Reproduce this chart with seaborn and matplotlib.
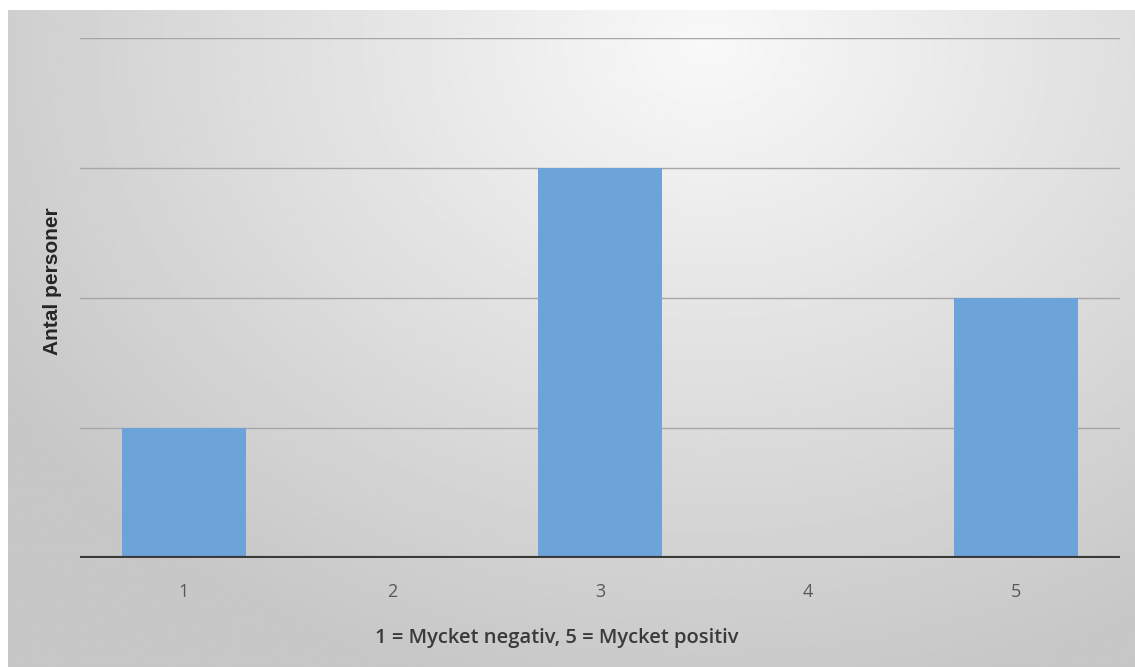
import numpy as np
import pandas as pd
import matplotlib.pyplot as plt
import seaborn as sns

# data
categories = ["1", "2", "3", "4", "5"]
counts = [1, 0, 3, 0, 2]

df = pd.DataFrame({"Betyg": categories, "Antal": counts})

sns.set_theme(style="white")
plt.rcParams['font.family'] = ['Open Sans', 'DejaVu Sans']

fig = plt.figure(figsize=(11.35, 6.67), dpi=100)
fig.patch.set_facecolor("white")

# gray radial gradient behind the chart
bg = fig.add_axes([8 / 1135, 0, 1 - 8 / 1135, 1 - 10 / 667], zorder=0)
yy, xx = np.mgrid[0:1:300j, 0:1:600j]
dist = np.sqrt(((xx - 0.62) * 1.1) ** 2 + ((yy - 0.05) * 0.8) ** 2)
shade = np.clip(0.975 - 0.24 * dist, 0.78, 0.975)
bg.imshow(shade, cmap="gray", vmin=0, vmax=1, aspect="auto", extent=[0, 1, 1, 0])
bg.axis("off")

ax = fig.add_axes([80 / 1135, 1 - 558 / 667, 1040 / 1135, 520 / 667], zorder=1)
ax.patch.set_alpha(0)

sns.barplot(data=df, x="Betyg", y="Antal", color="#6CA3D8", width=0.6,
            saturation=1, linewidth=0, ax=ax, zorder=3)

ax.set_xlim(-0.5, 4.5)
ax.set_ylim(0, 4)
for v in [1, 2, 3, 4]:
    ax.axhline(v, color="#a6a6a6", lw=1, zorder=1)
ax.axhline(0, color="#3a3a3a", lw=3, zorder=4)

ax.set_yticks([])
ax.tick_params(axis="x", length=0, pad=18, labelsize=13, labelcolor="#595959")
for s in ax.spines.values():
    s.set_visible(False)

ax.set_xlabel("1 = Mycket negativ, 5 = Mycket positiv", fontsize=14.5,
              color="#3a3a3a", fontweight="semibold")
ax.xaxis.set_label_coords(477 / 1040, -80 / 520)
ax.xaxis.label.set_va("center")
ax.set_ylabel("Antal personer", fontsize=15, fontweight="bold", color="#262626",
              family="Liberation Sans")
ax.yaxis.set_label_coords(-28 / 1040, 277 / 520)
ax.yaxis.label.set_va("center")

fig.savefig("out.png", dpi=100)
